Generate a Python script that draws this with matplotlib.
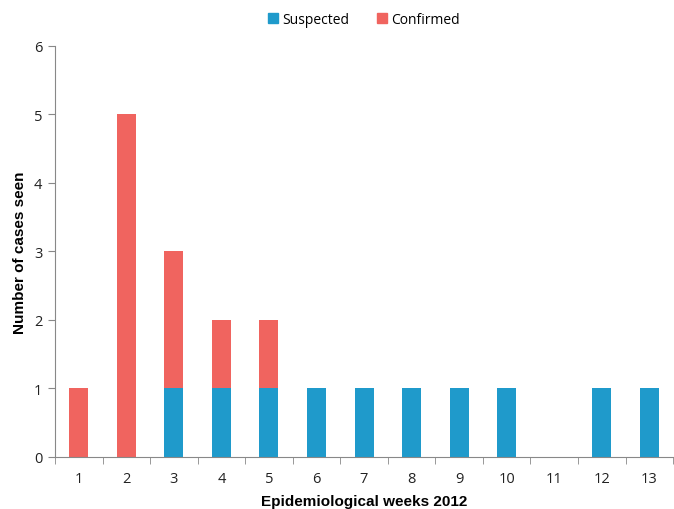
import numpy as np
import matplotlib
matplotlib.use('Agg')
import matplotlib.pyplot as plt
from matplotlib.patches import Patch

weeks = ['1', '2', '3', '4', '5', '6', '7', '8', '9', '10', '11', '12', '13']
suspected = [0, 0, 1, 1, 1, 1, 1, 1, 1, 1, 0, 1, 1]
confirmed = [1, 5, 2, 1, 1, 0, 0, 0, 0, 0, 0, 0, 0]

blue = '#1f9acb'
red = '#f0645f'
grey = '#888888'

fig = plt.figure(figsize=(6.74, 5.1), dpi=100)
ax = fig.add_axes([0.0816, 0.102, 0.917, 0.806])

x = np.arange(1, len(weeks) + 1)
ax.bar(x, suspected, width=0.4, color=blue)
ax.bar(x, confirmed, width=0.4, bottom=suspected, color=red)

ax.set_xlim(0.5, len(weeks) + 0.5)
ax.set_ylim(0, 6)
ax.set_yticks(range(0, 7))
ax.set_xticks(x)
ax.set_xticklabels(weeks)
ax.set_xticks(np.arange(0.5, len(weeks) + 1), minor=True)
ax.tick_params(axis='x', which='major', length=0, pad=10)
ax.tick_params(axis='x', which='minor', length=5, color=grey, direction='out')
ax.tick_params(axis='y', length=5, color=grey, direction='out', pad=4)
for lab in ax.get_xticklabels() + ax.get_yticklabels():
    lab.set_family('Open Sans')
    lab.set_fontsize(10.5)
    lab.set_color('#222222')

for s in ['top', 'right']:
    ax.spines[s].set_visible(False)
for s in ['left', 'bottom']:
    ax.spines[s].set_color(grey)

ax.set_ylabel('Number of cases seen', fontsize=11, fontweight='bold',
              family='Liberation Sans', labelpad=5)
ax.set_xlabel('Epidemiological weeks 2012', fontsize=11, fontweight='bold',
              family='Liberation Sans', labelpad=6)

handles = [Patch(color=blue, label='Suspected'), Patch(color=red, label='Confirmed')]
fig.legend(handles=handles, loc='upper center', bbox_to_anchor=(0.54, 1.0), ncol=2,
           frameon=False, handlelength=0.7, handleheight=0.7, handletextpad=0.3,
           columnspacing=2.0, prop={'family': 'Open Sans', 'size': 10})

fig.savefig('out.png', dpi=100)
